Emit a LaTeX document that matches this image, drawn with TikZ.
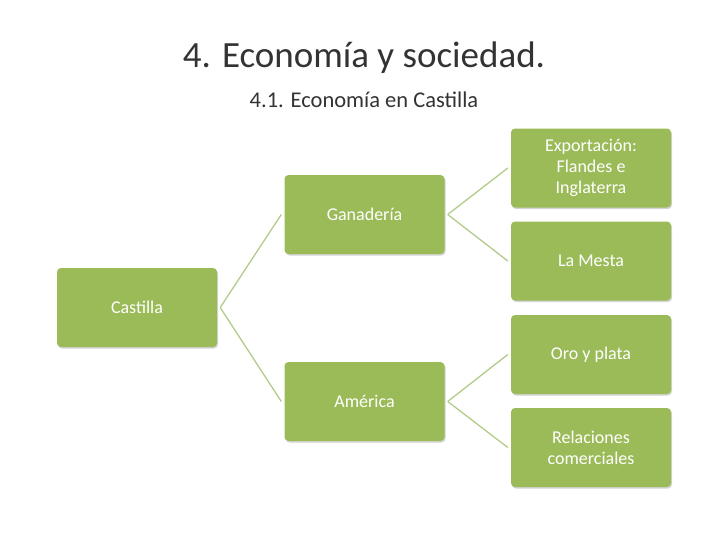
\documentclass[tikz,border=0pt]{standalone}
\usepackage{fontspec}
\setmainfont{Carlito}
\usetikzlibrary{shadows}
\definecolor{boxg}{HTML}{9BBB59}
\definecolor{lineg}{HTML}{B3CB8A}
\begin{document}
\begin{tikzpicture}[x=1pt,y=-1pt,
  bx/.style={draw=none,fill=boxg,rounded corners=4pt,minimum width=160pt,minimum height=79pt,
    text=white,font=\fontsize{18}{21}\selectfont,align=center,inner sep=2pt,
    drop shadow={shadow xshift=1pt,shadow yshift=-1.5pt,opacity=0.35}},
  ln/.style={draw=lineg,line width=1.3pt}]
\useasboundingbox (0,0) rectangle (728,546);
\node[font=\fontsize{37}{40}\selectfont,text=black!80] (t) at (364,58) {4. Economía y sociedad.};
\node[font=\fontsize{22.5}{26}\selectfont,text=black!80] (s) at (364,100) {4.1. Economía en Castilla};
\node[bx] (c) at (137,307.5) {Castilla};
\node[bx] (g) at (364.5,214.5) {Ganadería};
\node[bx] (a) at (364.5,401.5) {América};
\node[bx] (e) at (591,168) {Exportación:\\Flandes e\\Inglaterra};
\node[bx] (m) at (591,261) {La Mesta};
\node[bx] (o) at (591,354.5) {Oro y plata};
\node[bx] (r) at (591,447.5) {Relaciones\\comerciales};
\draw[ln] ([xshift=3pt]c.east) -- ([xshift=-3pt]g.west);
\draw[ln] ([xshift=3pt]c.east) -- ([xshift=-3pt]a.west);
\draw[ln] ([xshift=3pt]g.east) -- ([xshift=-3pt]e.west);
\draw[ln] ([xshift=3pt]g.east) -- ([xshift=-3pt]m.west);
\draw[ln] ([xshift=3pt]a.east) -- ([xshift=-3pt]o.west);
\draw[ln] ([xshift=3pt]a.east) -- ([xshift=-3pt]r.west);
\end{tikzpicture}
\end{document}
